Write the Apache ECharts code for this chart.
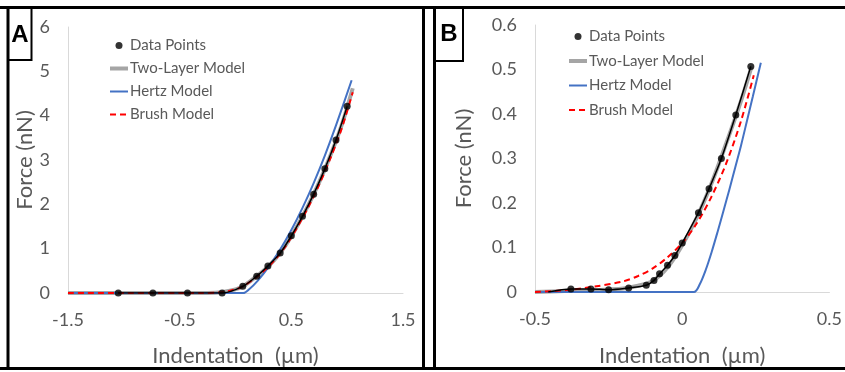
<!DOCTYPE html>
<html>
<head>
<meta charset="utf-8">
<script src="https://cdn.jsdelivr.net/npm/echarts@6/dist/echarts.min.js"></script>
<style>
  html, body {margin: 0; padding: 0; background: #fff;}
  #chart {width: 845px; height: 372px;}
</style>
</head>
<body>
<div id="chart"></div>
<script>
// ---- panel A ----
const pointsAX = [-1.05, -0.74, -0.43, -0.12, 0.065, 0.19, 0.29, 0.40, 0.50, 0.60, 0.70, 0.80, 0.90, 1.00];
const pointsAY = [0, 0, 0, 0, 0.15, 0.38, 0.61, 0.90, 1.29, 1.73, 2.23, 2.80, 3.45, 4.21];
const twoLayerAX = [-1.5, -0.3, -0.15, -0.05, 0.05, 0.15, 0.25, 0.35, 0.45, 0.55, 0.65, 0.75, 0.85, 0.95, 1.05];
const twoLayerAY = [0, 0, 0.01, 0.05, 0.13, 0.3, 0.5, 0.75, 1.08, 1.5, 1.97, 2.5, 3.1, 3.78, 4.62];
const brushAX = [-1.5, -0.3, -0.15, -0.05, 0.05, 0.15, 0.25, 0.35, 0.45, 0.55, 0.65, 0.75, 0.85, 0.95, 1.05];
const brushAY = [0, 0, 0.01, 0.05, 0.13, 0.29, 0.49, 0.74, 1.06, 1.47, 1.93, 2.45, 3.04, 3.7, 4.53];
const hertzAX = [-1.5, 0.07, 0.12, 0.2, 0.3, 0.4, 0.5, 0.6, 0.7, 0.8, 0.9, 1.04];
const hertzAY = [0, 0, 0.08, 0.28, 0.6, 0.98, 1.42, 1.92, 2.48, 3.1, 3.78, 4.8];

// ---- panel B ----
const pointsBX = [-0.378, -0.31, -0.25, -0.182, -0.122, -0.096, -0.077, -0.05, -0.025, 0, 0.055, 0.091, 0.133, 0.182, 0.233];
const pointsBY = [0.007, 0.007, 0.005, 0.009, 0.015, 0.026, 0.041, 0.060, 0.082, 0.110, 0.178, 0.232, 0.300, 0.398, 0.507];
const lineStartB = [-0.455, 0];
const twoLayerBX = [-0.5, -0.4, -0.3, -0.2, -0.15, -0.1, -0.05, 0, 0.05, 0.1, 0.15, 0.2, 0.235];
const twoLayerBY = [0, 0.002, 0.004, 0.008, 0.014, 0.025, 0.055, 0.105, 0.168, 0.245, 0.335, 0.43, 0.505];
const brushBX = [-0.5, -0.4, -0.3, -0.2, -0.15, -0.1, -0.05, 0, 0.05, 0.1, 0.15, 0.2, 0.243];
const brushBY = [0, 0.004, 0.012, 0.024, 0.036, 0.053, 0.078, 0.11, 0.155, 0.215, 0.29, 0.385, 0.487];
const hertzBX = [-0.5, 0.04, 0.06, 0.08, 0.1, 0.12, 0.14, 0.16, 0.18, 0.2, 0.22, 0.24, 0.267];
const hertzBY = [0, 0, 0.018, 0.05, 0.09, 0.135, 0.182, 0.23, 0.28, 0.33, 0.385, 0.44, 0.515];

const legendNames = ['Data Points', 'Two-Layer Model', 'Hertz Model', 'Brush Model'];

const zip = (xs, ys) => xs.map((x, i) => [x, ys[i]]);

const font = 'Lato, "Open Sans", sans-serif';
const grey = '#595959';
const colors = {twoLayer: '#a5a5a5', hertz: '#4472c4', brush: '#ff0000'};

const myChart = echarts.init(document.getElementById('chart'));

const valueAxis = (extra) => Object.assign({
  type: 'value',
  axisLine: {show: true, onZero: false, lineStyle: {color: '#d9d9d9', width: 1}},
  axisTick: {show: false},
  splitLine: {show: false},
  axisLabel: {color: grey, fontSize: 18, fontFamily: font, margin: 18},
  nameLocation: 'middle',
  nameTextStyle: {color: grey, fontSize: 22, fontFamily: font},
}, extra);

const hidden = {opacity: 0};
const legendOf = (left, top, gap) => ({
  left: left, top: top,
  orient: 'vertical',
  itemWidth: 18, itemHeight: 7, itemGap: gap,
  textStyle: {color: grey, fontSize: 15, fontFamily: font, padding: [0, 0, 0, -3]},
  data: [
    {name: legendNames[0], icon: 'circle'},
    {name: legendNames[1], itemStyle: hidden, lineStyle: {color: colors.twoLayer, width: 4}},
    {name: legendNames[2], itemStyle: hidden, lineStyle: {color: colors.hertz, width: 2}},
    {name: legendNames[3], itemStyle: hidden, lineStyle: {color: colors.brush, width: 2, type: [6, 4]}},
  ],
  selectedMode: false,
});

const seriesFor = (ax, d) => [
  {
    name: legendNames[1], type: 'line', xAxisIndex: ax, yAxisIndex: ax,
    data: d.twoLayer, symbol: 'none', smooth: 0.3,
    lineStyle: {color: colors.twoLayer, width: 4}, itemStyle: {color: colors.twoLayer}, z: 2,
  },
  {
    name: legendNames[2], type: 'line', xAxisIndex: ax, yAxisIndex: ax,
    data: d.hertz, symbol: 'none', smooth: 0.3,
    lineStyle: {color: colors.hertz, width: 2}, itemStyle: {color: colors.hertz}, z: 3,
  },
  {
    name: legendNames[3], type: 'line', xAxisIndex: ax, yAxisIndex: ax,
    data: d.brush, symbol: 'none', smooth: 0.3,
    lineStyle: {color: colors.brush, width: 2, type: [6, 4]}, itemStyle: {color: colors.brush}, z: 4,
  },
  {
    type: 'line', xAxisIndex: ax, yAxisIndex: ax,
    data: d.fit, symbol: 'none', smooth: 0.3,
    lineStyle: {color: '#000', width: 1.5}, z: 5,
  },
  {
    name: legendNames[0], type: 'scatter', xAxisIndex: ax, yAxisIndex: ax,
    data: d.points, symbol: 'circle', symbolSize: 7,
    itemStyle: {color: '#000'}, z: 6,
  },
];

const pointsA = zip(pointsAX, pointsAY);
const pointsB = zip(pointsBX, pointsBY);

myChart.setOption({
  animation: false,
  backgroundColor: '#fff',
  grid: [
    {left: 68, top: 27, width: 335, height: 269},
    {left: 535, top: 25, width: 303, height: 269},
  ],
  xAxis: [
    valueAxis({gridIndex: 0, min: -1.5, max: 1.5, interval: 1, name: 'Indentation  (µm)', nameGap: 52}),
    valueAxis({gridIndex: 1, min: -0.5, max: 0.5, interval: 0.5, name: 'Indentation  (µm)', nameGap: 53}),
  ],
  yAxis: [
    valueAxis({gridIndex: 0, min: 0, max: 6, interval: 1, name: 'Force (nN)', nameGap: 32}),
    valueAxis({gridIndex: 1, min: 0, max: 0.6, interval: 0.1, name: 'Force (nN)', nameGap: 60}),
  ],
  legend: [legendOf(103, 33, 8), legendOf(562, 24, 9.5)],
  series: [
    ...seriesFor(0, {
      twoLayer: zip(twoLayerAX, twoLayerAY),
      hertz: zip(hertzAX, hertzAY),
      brush: zip(brushAX, brushAY),
      fit: pointsA,
      points: pointsA,
    }),
    ...seriesFor(1, {
      twoLayer: zip(twoLayerBX, twoLayerBY),
      hertz: zip(hertzBX, hertzBY),
      brush: zip(brushBX, brushBY),
      fit: [lineStartB, ...pointsB],
      points: pointsB,
    }),
  ],
  graphic: [
    // panel frames
    {type: 'line', shape: {x1: 0, y1: 7.5, x2: 845, y2: 7.5}, style: {stroke: '#000', lineWidth: 3}},
    {type: 'line', shape: {x1: 0, y1: 368.5, x2: 845, y2: 368.5}, style: {stroke: '#000', lineWidth: 3}},
    {type: 'line', shape: {x1: 8, y1: 6, x2: 8, y2: 370}, style: {stroke: '#000', lineWidth: 3}},
    {type: 'line', shape: {x1: 423.5, y1: 6, x2: 423.5, y2: 370}, style: {stroke: '#000', lineWidth: 3}},
    {type: 'line', shape: {x1: 434.5, y1: 6, x2: 434.5, y2: 370}, style: {stroke: '#000', lineWidth: 3}},
    // panel letters
    {type: 'rect', shape: {x: 8, y: 7.5, width: 23.5, height: 52.5}, style: {fill: 'none', stroke: '#000', lineWidth: 2}},
    {type: 'rect', shape: {x: 434.5, y: 7.5, width: 28.5, height: 53.5}, style: {fill: 'none', stroke: '#000', lineWidth: 2}},
    {type: 'text', x: 20, y: 35, style: {text: 'A', font: 'bold 24px "Liberation Sans", Arial, sans-serif', fill: '#000', textAlign: 'center', textVerticalAlign: 'middle'}},
    {type: 'text', x: 449, y: 34, style: {text: 'B', font: 'bold 24px "Liberation Sans", Arial, sans-serif', fill: '#000', textAlign: 'center', textVerticalAlign: 'middle'}},
  ],
});
</script>
</body>
</html>
